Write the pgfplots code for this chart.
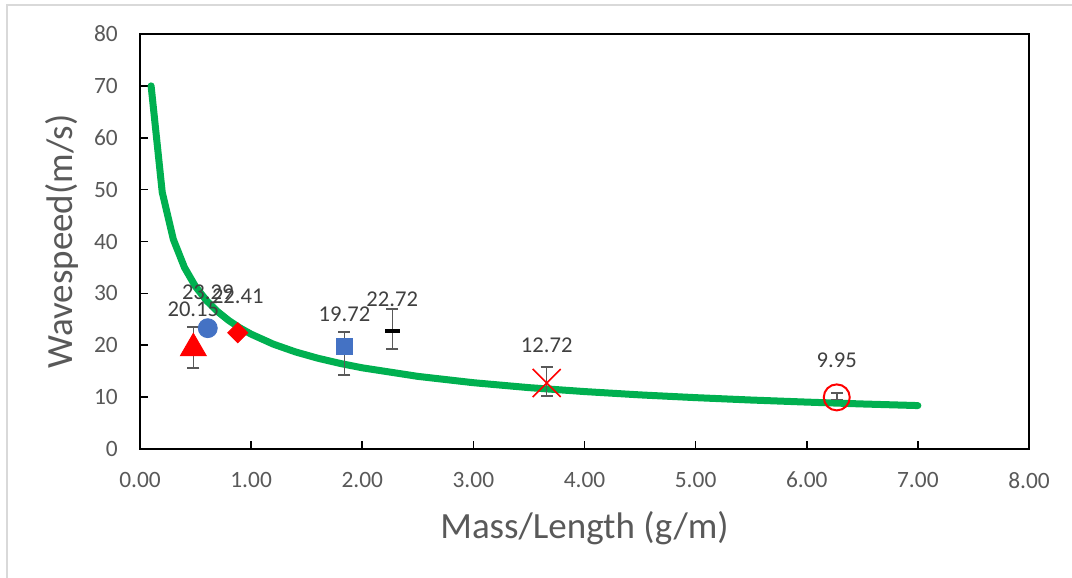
\documentclass[border=0pt]{standalone}
\usepackage{fontspec}
\setmainfont{Carlito}
\usepackage{pgfplots}
\pgfplotsset{compat=1.18}
\definecolor{xlgreen}{HTML}{00B050}
\definecolor{xlblue}{HTML}{4472C4}
\definecolor{xlred}{HTML}{FF0000}
\definecolor{tickgray}{HTML}{595959}
\definecolor{labgray}{HTML}{404040}
\definecolor{errgray}{HTML}{595959}
\definecolor{framegray}{HTML}{D9D9D9}

\pgfplotsset{
  pt/.style={only marks, error bars/.cd, y dir=both, y explicit,
    error bar style={errgray, line width=0.75pt},
    error mark options={rotate=90, errgray, mark size=3pt, line width=0.75pt},
    /pgfplots/.cd},
  lab/.style={nodes near coords={#1},
    every node near coord/.append style={anchor=center, text=labgray,
      font=\fontsize{11.3}{13}\selectfont}},
}

\begin{document}
\begin{tikzpicture}
\useasboundingbox (0,0) rectangle (536pt,289pt);
\fill[white] (0,0) rectangle (536pt,289pt);
\draw[framegray, line width=0.8pt] (3.5pt,0) -- (3.5pt,286.5pt) -- (536pt,286.5pt);
\begin{axis}[at={(70pt,64.5pt)}, anchor=south west, scale only axis,
  width=444.5pt, height=207.5pt,
  xmin=0, xmax=8, ymin=0, ymax=80,
  xtick={0,1,...,8}, ytick={0,10,...,80},
  tick pos=left, tick align=inside, major tick length=4pt,
  axis line style={line width=1.1pt},
  every tick/.style={black, line width=0.8pt},
  /pgf/number format/assume math mode=true,
  tick label style={font=\fontsize{11.7}{14}\selectfont, text=tickgray},
  xticklabel style={yshift=-8pt, /pgf/number format/.cd, fixed, fixed zerofill, precision=2},
  yticklabel style={xshift=-7.6pt},
  xlabel={Mass/Length (g/m)},
  xlabel style={at={(axis description cs:0.5,-0.2145)}, anchor=base,
    font=\fontsize{18.5}{22}\selectfont, text=tickgray},
  ylabel={Wavespeed(m/s)},
  ylabel style={at={(axis description cs:-0.0754,0.5)}, anchor=base,
    font=\fontsize{18.5}{22}\selectfont, text=tickgray},
  clip=false,
]
% fitted curve
\addplot[xlgreen, line width=3.5pt, line cap=round, line join=round] coordinates {
(0.1,70.00) (0.2,49.50) (0.3,40.41) (0.4,35.00) (0.5,31.30) (0.6,28.58)
(0.7,26.46) (0.8,24.75) (0.9,23.33) (1.0,22.14) (1.2,20.21) (1.4,18.71)
(1.6,17.50) (1.8,16.50) (2.0,15.65) (2.5,14.00) (3.0,12.78) (3.5,11.83)
(4.0,11.07) (4.5,10.43) (5.0,9.90) (5.5,9.44) (6.0,9.04) (6.5,8.68) (7.0,8.37)};

% measured points
\addplot[pt, mark=triangle*, xlred, mark size=7.5pt, mark options={yshift=-1.9pt},
  lab={20.15}, every node near coord/.append style={yshift=19.75pt}]
  coordinates {(0.48,20.15) += (0,3.37) -= (0,4.54)};
\addplot[pt, mark=*, xlblue, mark size=4.75pt,
  lab={23.29}, every node near coord/.append style={yshift=18pt}]
  coordinates {(0.61,23.29) +- (0,0)};
\addplot[pt, mark=square*, xlred, mark size=3.54pt, mark options={rotate=45},
  lab={22.41}, every node near coord/.append style={yshift=18pt}]
  coordinates {(0.88,22.41) +- (0,0)};
\addplot[pt, mark=square*, xlblue, mark size=4pt,
  lab={19.72}, every node near coord/.append style={yshift=16.3pt}]
  coordinates {(1.84,19.72) += (0,2.83) -= (0,5.45)};
\addplot[pt, mark=-, black, mark size=3.75pt, mark options={line width=2pt},
  lab={22.72}, every node near coord/.append style={yshift=15.8pt}]
  coordinates {(2.27,22.72) += (0,4.27) -= (0,3.44)};
\addplot[pt, mark=x, xlred, mark size=9.9pt, mark options={line width=0.75pt},
  lab={12.72}, every node near coord/.append style={yshift=19pt}]
  coordinates {(3.66,12.72) += (0,3.09) -= (0,2.50)};
\addplot[pt, mark=o, xlred, mark size=6.5pt, mark options={line width=1pt},
  lab={9.95}, every node near coord/.append style={yshift=18.5pt}]
  coordinates {(6.27,9.95) += (0,0.8) -= (0,0.4)};
\end{axis}
\end{tikzpicture}
\end{document}
